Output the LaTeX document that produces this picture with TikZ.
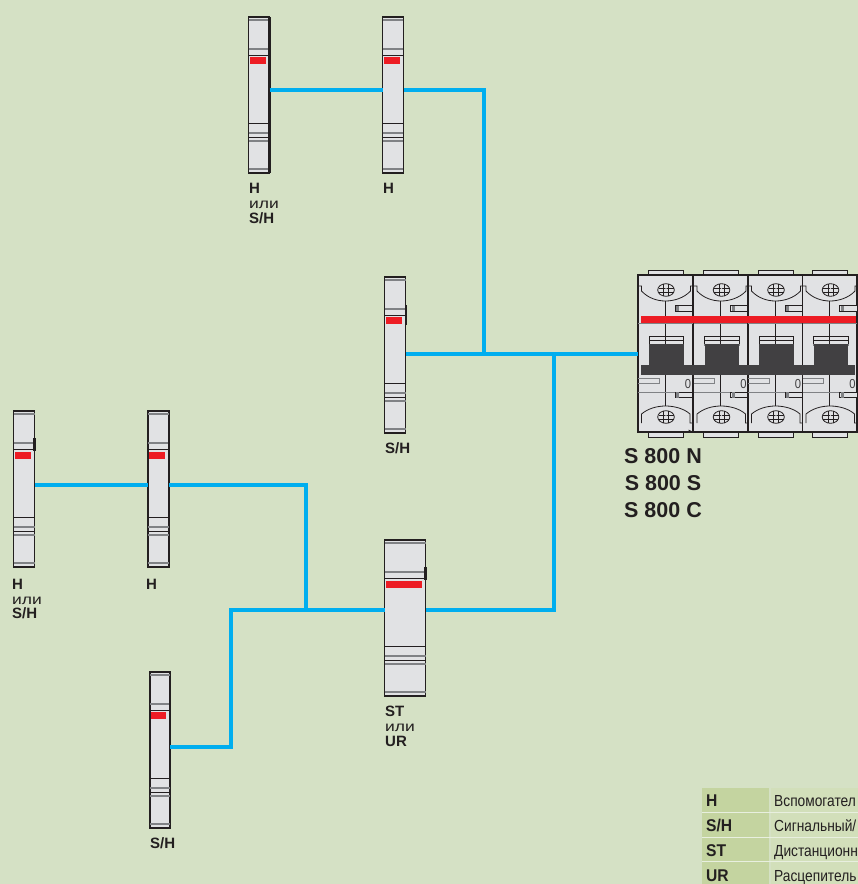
\documentclass[tikz,border=0pt]{standalone}
\usepackage{fontspec}
\setmainfont{Liberation Sans}
\newfontfamily\tabbold[FakeStretch=0.92]{Liberation Sans}
\newfontfamily\narrowreg[FakeStretch=0.86]{Liberation Sans}
\newfontfamily\wideili[FakeStretch=1.25]{Liberation Sans}
\definecolor{bgc}{HTML}{D5E1C5}
\definecolor{wirec}{HTML}{00AEEF}
\definecolor{bodyc}{HTML}{E1E2E4}
\definecolor{darkc}{HTML}{414042}
\definecolor{redc}{HTML}{ED1C24}
\definecolor{inkc}{HTML}{231F20}
\definecolor{midc}{HTML}{808285}
\definecolor{headc}{HTML}{C4D4A0}
\definecolor{rowc}{HTML}{D2DFBA}
\definecolor{sepc}{HTML}{E8EFDF}
\tikzset{
  x=1pt,y=-1pt,
  modbody/.style={draw=inkc,line width=1.6pt,fill=bodyc,rectangle,inner sep=0pt,outer sep=0pt,anchor=north west},
  wire/.style={draw=wirec,line width=4.4pt},
  thinln/.style={draw=inkc,line width=.8pt},
  greyln/.style={draw=midc,line width=1.2pt},
  lab/.style={font=\fontsize{15}{15}\selectfont\bfseries,text=inkc,anchor=base west,inner sep=0pt},
  ili/.style={font=\fontsize{14}{14}\selectfont\wideili,text=inkc,anchor=base west,inner sep=0pt},
  big/.style={font=\fontsize{21.5}{21.5}\selectfont\bfseries,text=inkc,anchor=base,inner sep=0pt},
  tabh/.style={font=\fontsize{17}{17}\selectfont\tabbold\bfseries,text=inkc,anchor=base west,inner sep=0pt},
  tabt/.style={font=\fontsize{16}{16}\selectfont\narrowreg,text=inkc,anchor=base west,inner sep=0pt},
}
% name, x, y, w, h, red offset, right-edge width, start of right thick part, end of it
\newcommand{\modul}[9]{%
  \node[modbody,minimum width=#4pt,minimum height=#5pt] (#1) at (#2,#3) {};
  \begin{scope}[shift={(#2,#3)}]
    \draw[greyln] (0,32) -- (#4,32);
    \draw[thinln] (0,38) -- (#4,38);
    \fill[redc] (1,#6) rectangle ({#4-4},{#6+7});
    \draw[thinln] (0,106) -- (#4,106);
    \draw[greyln] (0,116) -- (#4,116);
    \draw[thinln] (0,120) -- (#4,120);
    \draw[greyln] (0,124) -- (#4,124);
    \draw[greyln] (0,152) -- (#4,152);
    \draw[greyln] (0,3) -- (#4,3);
    \draw[draw=inkc,line width=#7pt] (#4,#8) -- (#4,#9);
  \end{scope}}
% breaker pole: name, x
\newcommand{\pole}[2]{%
  \begin{scope}[shift={(#2,0)}]
    \draw[draw=inkc,line width=.8pt,fill=bodyc] (10,275) -- (10,270.5) -- (45,270.5) -- (45,275);
    \draw[draw=inkc,line width=.8pt,fill=bodyc] (10,432) -- (10,437) -- (45,437) -- (45,432);
    \node[draw=inkc,line width=1.1pt,fill=bodyc,rectangle,inner sep=0pt,outer sep=0pt,anchor=north west,minimum width=54.5pt,minimum height=157pt] (#1) at (0,275) {};
    \draw[thinln] (0,286) -- (3.5,286) -- (3.5,291) .. controls (10,298) and (19,301) .. (27.5,301) .. controls (36,301) and (46,298) .. (52.5,291) -- (52.5,286) -- (54.5,286);
    \draw[thinln] (3.5,423) -- (3.5,414) .. controls (10,408.5) and (19,406) .. (27.5,406) .. controls (36,406) and (46,408.5) .. (52,414) -- (52,423) -- (54.5,423);
    \foreach \yy in {290,417} {
      \draw[thinln] (28,\yy) ellipse[x radius=8.3,y radius=6.3];
      \draw[line width=.55pt,draw=inkc] (20.5,{\yy-2.2}) -- (35.5,{\yy-2.2}) (20.5,{\yy+2.2}) -- (35.5,{\yy+2.2});
      \draw[line width=.55pt,draw=inkc] (25.5,{\yy-5.6}) -- (25.5,{\yy+5.6}) (30.5,{\yy-5.6}) -- (30.5,{\yy+5.6});
      \fill[bodyc] (28,\yy) circle[radius=1.8];
    }
    \draw[thinln] (27,301) -- (27,336);
    \draw[thinln] (27,375) -- (27,406);
    \draw[thinln,fill=bodyc] (37,305.5) rectangle (54.5,311);
    \fill[midc] (38,305.5) rectangle (41,311);
    \draw[draw=midc,line width=.9pt] (0,323) -- (54.5,323);
    \draw[draw=midc,line width=.9pt,fill=bodyc] (11,336) rectangle (45.5,345);
    \draw[thinln] (11,336) -- (45.5,336) (11,340) -- (45.5,340);
    \draw[thinln] (11,336) -- (11,344) (45.5,336) -- (45.5,344);
    \draw[thinln] (27,336) -- (27,345);
    \fill[darkc] (11,344) rectangle (45.5,365);
    \draw[draw=midc,line width=1pt] (11,365) -- (45.5,365);
    \draw[draw=midc,line width=.9pt] (0,378) -- (21,378) -- (21,383.5) -- (0,383.5);
    \node[font=\fontsize{13}{13}\selectfont\narrowreg,text=darkc,inner sep=0pt] (#1z) at (50,384) {0};
    \draw[draw=midc,line width=.9pt] (0,392) -- (37,392);
    \draw[thinln,fill=bodyc] (37,392) rectangle (54.5,397.5);
    \fill[midc] (38,392) rectangle (41,397.5);
  \end{scope}}
\begin{document}
\begin{tikzpicture}
\useasboundingbox (0,0) rectangle (858,884);
\clip (0,0) rectangle (858,884);
\fill[bgc] (0,0) rectangle (858,884);

% modules
\modul{ma}{248.5}{17}{21}{156}{40}{2.8}{0}{156}
\modul{mb}{382.5}{17}{21}{156}{40}{1.8}{0}{156}
\modul{mc}{384.5}{277}{21}{156}{40}{2}{28}{48}
\modul{md}{13.5}{411}{21}{156}{41}{2.5}{27}{40}
\modul{me}{148}{411}{21}{156}{41}{2.5}{27}{40}
\modul{mf}{150}{672}{20}{156}{40}{2.5}{27}{40}
\modul{mg}{384.5}{540}{41}{156}{41}{2.5}{27}{40}

% breaker
\pole{pa}{638}
\pole{pb}{693.5}
\pole{pc}{748}
\pole{pd}{802.5}
\fill[redc] (641,316) rectangle (856,323);
\fill[darkc] (641,365) rectangle (855,375);
\draw[thinln] (pa.south east) -- ++(-4,-2);

% junctions
\coordinate (ja) at (484,90);
\coordinate (jb) at (484,354);
\coordinate (jc) at (554,354);
\coordinate (jd) at (554,610);
\coordinate (je) at (306,485);
\coordinate (jf) at (306,610);
\coordinate (jg) at (231,610);
\coordinate (jh) at (231,747);

% wires
\begin{scope}[every path/.style={wire}]
\draw ([yshift=5]ma.east) -- ([yshift=5]mb.west);
\draw ([yshift=5]mb.east) -- (ja) -- (jb);
\draw ([yshift=1]mc.east) -- (jb) -- (jc) -- ([yshift=-.5]pa.west);
\draw (jc) -- (jd) -- ([yshift=8]mg.east);
\draw ([yshift=4]md.east) -- ([yshift=4]me.west);
\draw ([yshift=4]me.east) -- (je) -- (jf);
\draw ([yshift=8]mg.west) -- (jg) -- (jh) -- ([yshift=3]mf.east);
\end{scope}

% labels
\node[lab] (la1) at (249,193) {H};
\node[ili] (la2) at (249,208) {или};
\node[lab] (la3) at (249,223) {S/H};
\node[lab] (lb1) at (383,193) {H};
\node[lab] (lc1) at (385,453) {S/H};
\node[lab] (ld1) at (12,589) {H};
\node[ili] (ld2) at (12,604) {или};
\node[lab] (ld3) at (12,618) {S/H};
\node[lab] (le1) at (146,589) {H};
\node[lab] (lf1) at (150,848) {S/H};
\node[lab] (lg1) at (385,716) {ST};
\node[ili] (lg2) at (385,731) {или};
\node[lab] (lg3) at (385,746) {UR};

\node[big] (s1) at (663,463) {S 800 N};
\node[big] (s2) at (663,490) {S 800 S};
\node[big] (s3) at (663,517) {S 800 C};

% table
\fill[headc] (702,788) rectangle (769,884);
\fill[rowc] (771,788) rectangle (858,884);
\fill[sepc] (702,812) rectangle (858,813.2);
\fill[sepc] (702,836.5) rectangle (858,837.7);
\fill[sepc] (702,860.5) rectangle (858,861.7);
\node[tabh] (t1) at (706,806) {H};
\node[tabh] (t2) at (706,831) {S/H};
\node[tabh] (t3) at (706,856) {ST};
\node[tabh] (t4) at (706,881) {UR};
\node[tabt] (u1) at (774,806) {Вспомогател};
\node[tabt] (u2) at (774,831) {Сигнальный/};
\node[tabt] (u3) at (774,856) {Дистанционн};
\node[tabt] (u4) at (774,881) {Расцепитель};
\end{tikzpicture}
\end{document}
